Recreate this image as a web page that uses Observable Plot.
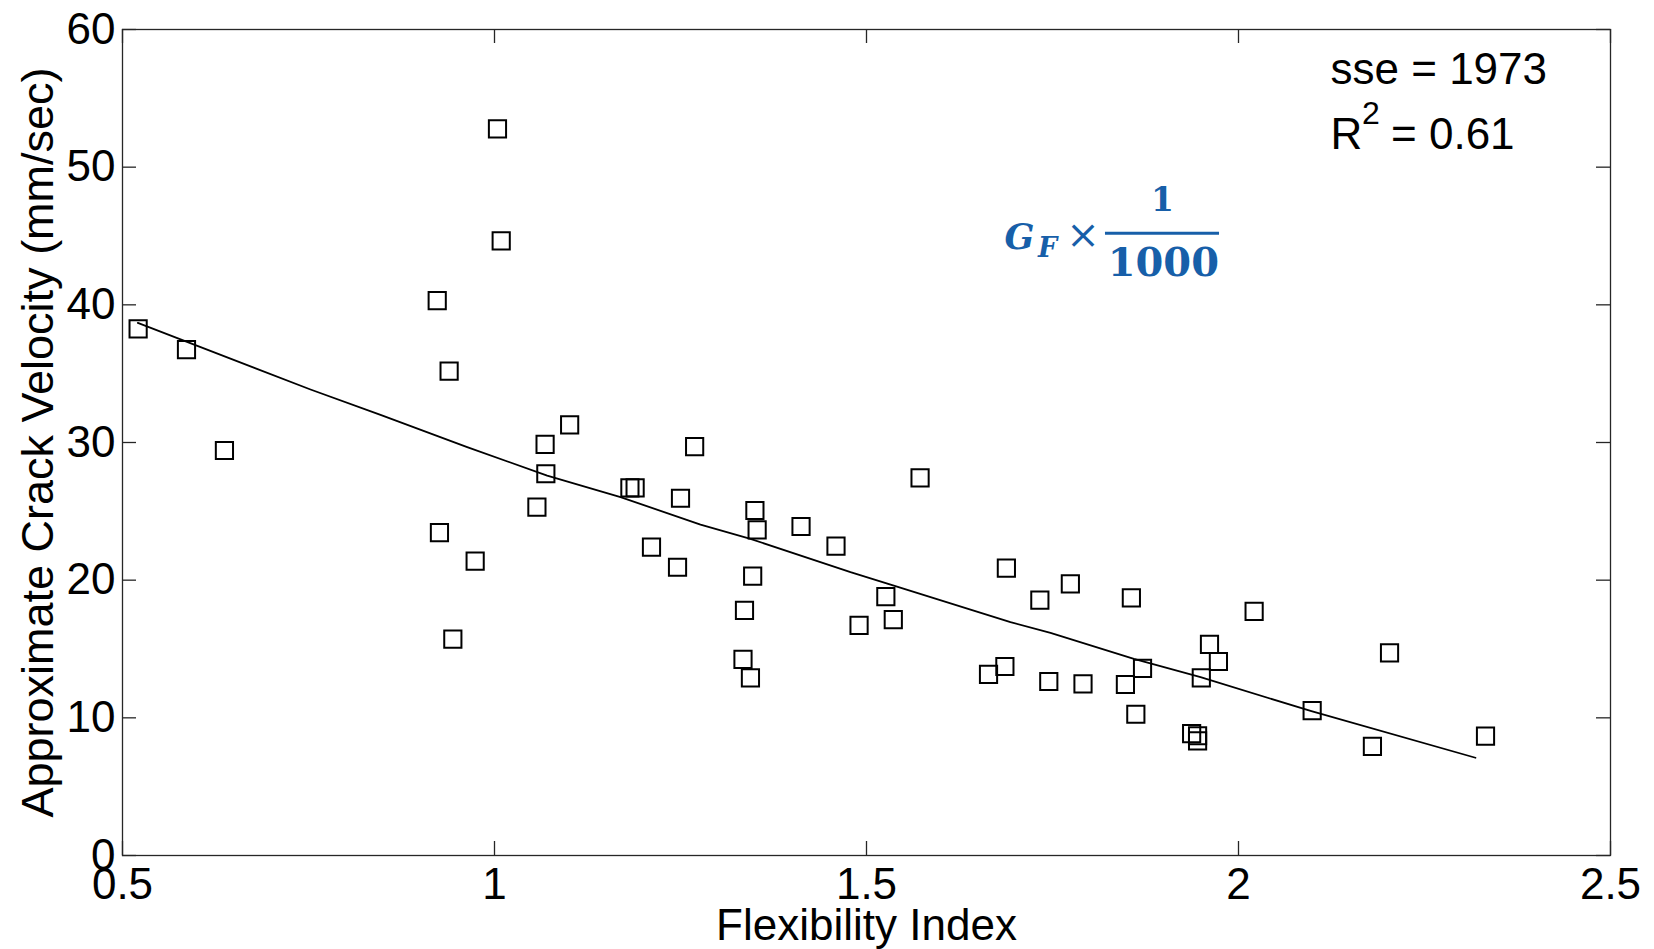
<!DOCTYPE html>
<html>
<head>
<meta charset="utf-8">
<script src="https://cdn.jsdelivr.net/npm/d3@7"></script>
<script src="https://cdn.jsdelivr.net/npm/@observablehq/plot@0.6"></script>
<style>
  html, body { margin: 0; padding: 0; background: #fff; }
  #chart svg { display: block; }
</style>
</head>
<body>
<div id="chart"></div>
<script>
// Flexibility Index (x) and Approximate Crack Velocity in mm/sec (y)
const flexibilityIndex = [
  0.521, 0.586, 0.637, 1.004, 1.009, 0.923, 0.939, 0.926, 0.974, 0.944,
  1.068, 1.101, 1.069, 1.057, 1.182, 1.189, 1.269, 1.250, 1.211, 1.246,
  1.350, 1.353, 1.347, 1.336, 1.334, 1.344, 1.412, 1.459, 1.572, 1.526,
  1.490, 1.536, 1.688, 1.733, 1.774, 1.664, 1.686, 1.745, 1.791, 1.856,
  1.848, 1.862, 1.871, 1.961, 1.973, 1.950, 1.937, 1.945, 1.945, 2.021,
  2.099, 2.180, 2.203, 2.332
];
const crackVelocity = [
  38.26, 36.75, 29.42, 52.78, 44.65, 40.31, 35.18, 23.46, 21.38, 15.72,
  29.86, 31.28, 27.73, 25.30, 26.70, 26.70, 29.70, 25.95, 22.40, 20.94,
  25.06, 23.66, 20.29, 17.80, 14.24, 12.90, 23.90, 22.47, 27.43, 18.81,
  16.71, 17.14, 20.87, 18.55, 19.73, 13.15, 13.73, 12.64, 12.47, 18.72,
  12.42, 10.26, 13.59, 15.33, 14.09, 12.90, 8.85, 8.70, 8.33, 17.73,
  10.52, 7.92, 14.72, 8.67
];
// Fitted curve
const fitFI = [0.5206, 0.7527, 0.8468, 0.9633, 1.0708, 1.1694, 1.2769, 1.344,
               1.4785, 1.5367, 1.6935, 1.7473, 1.8594, 1.949, 2.098, 2.3185];
const fitVelocity = [38.69, 33.85, 32.0, 29.66, 27.6, 26.03, 24.04, 23.0,
                     20.58, 19.61, 16.95, 16.17, 14.29, 12.95, 10.48, 7.1];
// Axis ticks
const xTicks = [0.5, 1, 1.5, 2, 2.5];
const yTicks = [0, 10, 20, 30, 40, 50, 60];
const xLabel = "Flexibility Index";
const yLabel = "Approximate Crack Velocity (mm/sec)";
const sseText = "sse = 1973";
const r2Text = ["R", "2", "= 0.61"];

const points = flexibilityIndex.map((x, i) => ({x, y: crackVelocity[i]}));
const fit = fitFI.map((x, i) => ({x, y: fitVelocity[i]}));

const W = 1654, H = 949;
const mL = 122, mR = 44, mT = 29, mB = 94;
const iW = W - mL - mR, iH = H - mT - mB;
const tickLen = 14;
const axisColor = "#262626";
const blue = "#175fa9";

const chart = Plot.plot({
  width: W, height: H,
  marginLeft: mL, marginRight: mR, marginTop: mT, marginBottom: mB,
  x: {domain: [0.5, 2.5]},
  y: {domain: [0, 60]},
  style: {fontFamily: "'Liberation Sans', Arial, sans-serif", fontSize: "44px", color: "#000", background: "#fff", overflow: "visible"},
  marks: [
    Plot.frame({stroke: axisColor, strokeWidth: 1.3}),
    Plot.tickX(xTicks, {x: d => d, insetTop: iH - tickLen, stroke: axisColor, strokeWidth: 1.3}),
    Plot.tickX(xTicks, {x: d => d, insetBottom: iH - tickLen, stroke: axisColor, strokeWidth: 1.3}),
    Plot.tickY(yTicks, {y: d => d, insetRight: iW - tickLen, stroke: axisColor, strokeWidth: 1.3}),
    Plot.tickY(yTicks, {y: d => d, insetLeft: iW - tickLen, stroke: axisColor, strokeWidth: 1.3}),
    Plot.axisX({ticks: xTicks, tickSize: 0, tickPadding: 12, label: null, tickFormat: d => String(d), fill: "#000"}),
    Plot.axisY({ticks: yTicks, tickSize: 0, tickPadding: 7, label: null, tickFormat: d => String(d), fill: "#000"}),
    Plot.line(fit, {x: "x", y: "y", stroke: "#000", strokeWidth: 1.8}),
    Plot.dot(points, {x: "x", y: "y", symbol: "square", r: 9.7, stroke: "#000", strokeWidth: 2, fill: "none"}),
    // axis titles
    Plot.text([xLabel], {text: d => d, frameAnchor: "bottom", dy: 84, lineAnchor: "bottom", fontSize: 44, fill: "#000"}),
    Plot.text([yLabel], {text: d => d, frameAnchor: "left", dx: -70, rotate: -90, lineAnchor: "bottom", textAnchor: "middle", fontSize: 45, fill: "#000"}),
    // statistics
    Plot.text([sseText], {text: d => d, x: 2.1237, y: 56.07, textAnchor: "start", lineAnchor: "bottom", fontSize: 44, fill: "#000"}),
    Plot.text([r2Text[0]], {text: d => d, x: 2.1237, y: 51.35, textAnchor: "start", lineAnchor: "bottom", fontSize: 44, fill: "#000"}),
    Plot.text([r2Text[1]], {text: d => d, x: 2.166, y: 53.17, textAnchor: "start", lineAnchor: "bottom", fontSize: 32, fill: "#000"}),
    Plot.text([r2Text[2]], {text: d => d, x: 2.205, y: 51.35, textAnchor: "start", lineAnchor: "bottom", fontSize: 44, fill: "#000"}),
    // formula G_F x 1/1000
    Plot.text(["G"], {text: d => d, x: 1.6855, y: 44.09, textAnchor: "start", lineAnchor: "bottom", fontFamily: "'DejaVu Serif', serif", fontWeight: "bold", fontStyle: "italic", fontSize: 35, fill: blue}),
    Plot.text(["F"], {text: d => d, x: 1.7305, y: 43.44, textAnchor: "start", lineAnchor: "bottom", fontFamily: "'DejaVu Serif', serif", fontWeight: "bold", fontStyle: "italic", fontSize: 27, fill: blue}),
    Plot.text(["×"], {text: d => d, x: 1.791, y: 45.03, textAnchor: "middle", lineAnchor: "middle", fontFamily: "'DejaVu Serif', serif", fontSize: 40, fill: blue}),
    Plot.text(["1"], {text: d => d, x: 1.8978, y: 46.85, textAnchor: "middle", lineAnchor: "bottom", fontFamily: "'DejaVu Serif', serif", fontWeight: "bold", fontSize: 33, fill: blue}),
    Plot.text(["1000"], {text: d => d, x: 1.899, y: 42.06, textAnchor: "middle", lineAnchor: "bottom", fontFamily: "'DejaVu Serif', serif", fontWeight: "bold", fontSize: 40, fill: blue}),
    Plot.ruleY([45.2], {y: d => d, x1: 1.8212, x2: 1.9745, stroke: blue, strokeWidth: 3})
  ]
});
document.getElementById("chart").appendChild(chart);
</script>
</body>
</html>
